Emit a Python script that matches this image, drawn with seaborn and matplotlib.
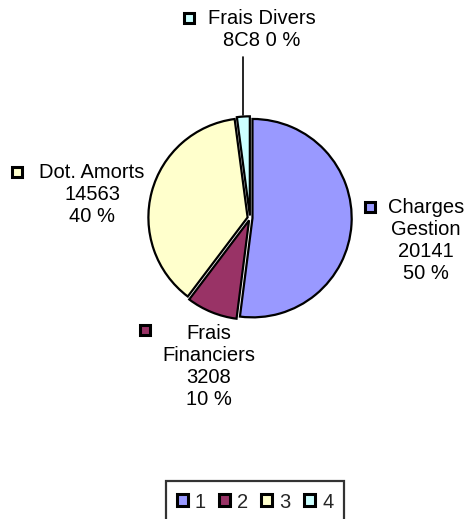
import matplotlib
matplotlib.use('Agg')
import matplotlib.pyplot as plt
import seaborn as sns
from matplotlib.patches import Rectangle

# données
categories = ['Charges Gestion', 'Frais Financiers', 'Dot. Amorts', 'Frais Divers']
label_names = ['Charges\nGestion', 'Frais\nFinanciers', 'Dot. Amorts', 'Frais Divers']
values = [20141, 3208, 14563, 808]
value_texts = ['20141', '3208', '14563', '8C8']
percents = [50, 10, 40, 0]
legend_labels = ['1', '2', '3', '4']
colors = ['#9999FF', '#993366', '#FFFFCC', '#CCFFFF']

sns.set_style('white')
plt.rcParams['font.family'] = ['Liberation Sans', 'DejaVu Sans']

W, H = 470, 519
fig = plt.figure(figsize=(W / 100, H / 100), dpi=100)
fig.patch.set_facecolor('white')

# axe du camembert : centre (250, 218), rayon ~103 px
cx, cy, half = 250, 218, 124
ax = fig.add_axes([(cx - half) / W, 1 - (cy + half) / H, 2 * half / W, 2 * half / H])
ax.set_xlim(-1.2, 1.2)
ax.set_ylim(-1.2, 1.2)
ax.set_aspect('equal')
ax.axis('off')

wedges, _ = ax.pie(values, colors=colors, startangle=90, counterclock=False,
                   explode=[0.025] * 4, radius=1.0,
                   wedgeprops=dict(edgecolor='black', linewidth=1.6))

# trait de rappel pour Frais Divers
ax.plot([-0.068, -0.068], [1.04, 1.62], color='black', lw=1.2, clip_on=False)

fs = 14.5

def add_label(x, y, text, sq_x, sq_y, color):
    fig.text(x / W, 1 - y / H, text, ha='center', va='top', fontsize=fs,
             linespacing=1.2, color='black')
    s = 10
    fig.add_artist(Rectangle(((sq_x - s / 2) / W, 1 - (sq_y + s / 2) / H), s / W, s / H,
                             transform=fig.transFigure, facecolor=color,
                             edgecolor='black', lw=2.2))

label_texts = [f'{n}\n{v}\n{p} %' for n, v, p in zip(label_names, value_texts, percents)]
label_texts[3] = f'{label_names[3]}\n{value_texts[3]} {percents[3]} %'

pos = [(426, 198, 370, 207), (209, 324, 145, 330), (92, 163, 17, 172), (262, 9, 189, 18)]
for i, (x, y, sx, sy) in enumerate(pos):
    add_label(x, y, label_texts[i], sx, sy, colors[i])

leg = fig.legend(wedges, legend_labels, loc='center', ncol=4,
                 bbox_to_anchor=(255 / W, 1 - 502 / H), fontsize=fs,
                 handlelength=0.55, handleheight=0.55, handletextpad=0.35,
                 columnspacing=0.65, borderpad=0.55, borderaxespad=0,
                 frameon=True, fancybox=False)
leg.get_frame().set_edgecolor('black')
leg.get_frame().set_linewidth(1.6)
for h in leg.legend_handles:
    h.set_linewidth(2.2)

fig.savefig('out.png', dpi=100, facecolor='white')
